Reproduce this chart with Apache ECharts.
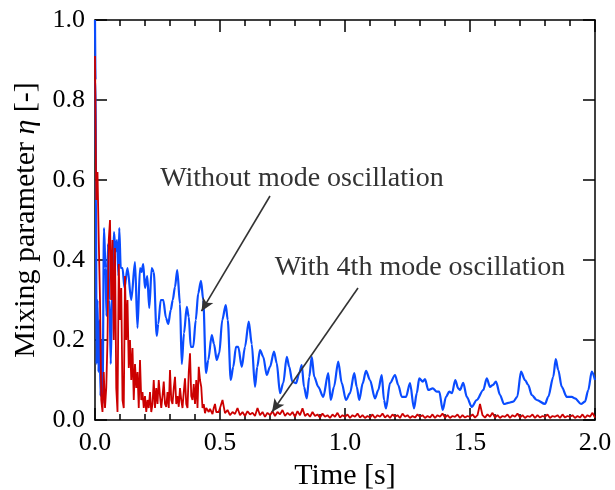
<!DOCTYPE html>
<html>
<head>
<meta charset="utf-8">
<script src="https://cdn.jsdelivr.net/npm/echarts@6/dist/echarts.min.js"></script>
<style>
html, body { margin: 0; padding: 0; background: #fff; }
#chartmain { width: 615px; height: 490px; }
</style>
</head>
<body>
<div id="chartmain"></div>
<script>
// x ticks / y ticks
var xTicks = [0.0, 0.5, 1.0, 1.5, 2.0];
var yTicks = [0.0, 0.2, 0.4, 0.6, 0.8, 1.0];

// without mode oscillation: [time, eta]
var blue = [
    [0, 1.0], [0.002, 0.85], [0.004, 0.6], [0.006, 0.14], [0.010, 0.30], [0.014, 0.12], [0.018, 0.25],
    [0.022, 0.06], [0.026, 0.20], [0.030, 0.04], [0.036, 0.48], [0.042, 0.38], [0.046, 0.26], [0.052, 0.44],
    [0.058, 0.30], [0.063, 0.14], [0.070, 0.36], [0.076, 0.47], [0.082, 0.42], [0.088, 0.45], [0.094, 0.36],
    [0.097, 0.48], [0.103, 0.38], [0.110, 0.38], [0.118, 0.33], [0.130, 0.38], [0.145, 0.30], [0.160, 0.395],
    [0.170, 0.23], [0.180, 0.38], [0.186, 0.37], [0.193, 0.39], [0.200, 0.33], [0.209, 0.36], [0.217, 0.28],
    [0.227, 0.38], [0.235, 0.37], [0.247, 0.21], [0.253, 0.24], [0.263, 0.30], [0.273, 0.30], [0.284, 0.255],
    [0.293, 0.24], [0.303, 0.275], [0.311, 0.30], [0.320, 0.333], [0.329, 0.375], [0.340, 0.29], [0.347, 0.14],
    [0.356, 0.217], [0.367, 0.283], [0.375, 0.258], [0.383, 0.183], [0.393, 0.183], [0.403, 0.25], [0.413, 0.317],
    [0.424, 0.348], [0.433, 0.30], [0.444, 0.117], [0.453, 0.15], [0.467, 0.2125], [0.476, 0.19], [0.487, 0.15],
    [0.497, 0.167], [0.509, 0.25], [0.523, 0.2875], [0.531, 0.25], [0.543, 0.10], [0.553, 0.133], [0.564, 0.183],
    [0.573, 0.183], [0.587, 0.133], [0.600, 0.183], [0.615, 0.246], [0.627, 0.19], [0.640, 0.083], [0.649, 0.133],
    [0.660, 0.175], [0.673, 0.158], [0.687, 0.1125], [0.700, 0.133], [0.716, 0.171], [0.727, 0.142], [0.740, 0.067],
    [0.753, 0.092], [0.767, 0.158], [0.777, 0.133], [0.789, 0.096], [0.804, 0.092], [0.817, 0.117], [0.827, 0.1375],
    [0.836, 0.083], [0.847, 0.054], [0.857, 0.108], [0.867, 0.158], [0.877, 0.108], [0.893, 0.083], [0.913, 0.058],
    [0.933, 0.117], [0.943, 0.05], [0.956, 0.083], [0.973, 0.146], [0.987, 0.092], [1.004, 0.05], [1.020, 0.067],
    [1.037, 0.117], [1.047, 0.083], [1.057, 0.05], [1.071, 0.092], [1.084, 0.123], [1.100, 0.10], [1.120, 0.054],
    [1.133, 0.075], [1.147, 0.1125], [1.156, 0.05], [1.164, 0.029], [1.180, 0.092], [1.200, 0.1125], [1.213, 0.0875],
    [1.227, 0.058], [1.244, 0.058], [1.260, 0.092], [1.276, 0.029], [1.287, 0.067], [1.297, 0.104], [1.311, 0.096],
    [1.320, 0.102], [1.333, 0.075], [1.351, 0.079], [1.367, 0.071], [1.377, 0.071], [1.391, 0.025], [1.404, 0.058],
    [1.417, 0.071], [1.428, 0.067], [1.441, 0.10], [1.453, 0.079], [1.460, 0.075], [1.473, 0.093], [1.487, 0.058],
    [1.507, 0.033], [1.527, 0.05], [1.553, 0.075], [1.567, 0.104], [1.580, 0.083], [1.591, 0.0875], [1.604, 0.096],
    [1.620, 0.0625], [1.636, 0.04], [1.653, 0.043], [1.673, 0.046], [1.689, 0.058], [1.704, 0.121], [1.720, 0.10],
    [1.733, 0.0875], [1.747, 0.0625], [1.767, 0.05], [1.800, 0.04], [1.813, 0.058], [1.833, 0.108], [1.843, 0.152],
    [1.853, 0.125], [1.867, 0.083], [1.887, 0.058], [1.907, 0.058], [1.920, 0.054], [1.944, 0.04], [1.960, 0.046],
    [1.973, 0.075], [1.987, 0.121], [2.000, 0.10]
];

// with 4th mode oscillation, sampled every 0.005 s from 0 to 0.495 s
var redEarlyStep = 0.005;
var redEarly = [
    0.91, 0.55, 0.62, 0.45, 0.30, 0.05, 0.02, 0.12, 0.03, 0.08,
    0.20, 0.45, 0.50, 0.30, 0.45, 0.20, 0.43, 0.08, 0.02, 0.39,
    0.25, 0.33, 0.05, 0.03, 0.36, 0.20, 0.30, 0.13, 0.20, 0.10,
    0.18, 0.05, 0.14, 0.08, 0.12, 0.03, 0.15, 0.05, 0.07, 0.03,
    0.06, 0.02, 0.05, 0.03, 0.07, 0.02, 0.04, 0.10, 0.03, 0.08,
    0.04, 0.10, 0.06, 0.03, 0.06, 0.096, 0.04, 0.033, 0.07, 0.03,
    0.125, 0.05, 0.04, 0.08, 0.108, 0.04, 0.06, 0.033, 0.08, 0.05,
    0.03, 0.07, 0.104, 0.04, 0.03, 0.12, 0.167, 0.06, 0.05, 0.09,
    0.04, 0.10, 0.03, 0.133, 0.10, 0.083, 0.03, 0.04, 0.017, 0.03,
    0.033, 0.02, 0.028, 0.025, 0.015, 0.03, 0.04, 0.02, 0.025, 0.02
];
// then every 0.01 s from 0.5 s to 2.0 s
var redLateStart = 0.5;
var redLateStep = 0.01;
var redLate = [
    0.02, 0.05, 0.017, 0.025, 0.012, 0.02, 0.015, 0.03, 0.012, 0.02,
    0.01, 0.022, 0.014, 0.018, 0.01, 0.03, 0.012, 0.02, 0.008, 0.018,
    0.012, 0.022, 0.01, 0.02, 0.014, 0.025, 0.01, 0.018, 0.012, 0.02,
    0.008, 0.022, 0.012, 0.029, 0.01, 0.016, 0.008, 0.02, 0.01, 0.014,
    0.006, 0.016, 0.008, 0.012, 0.005, 0.014, 0.008, 0.018, 0.006, 0.012,
    0.008, 0.014, 0.005, 0.012, 0.008, 0.016, 0.006, 0.012, 0.005, 0.01,
    0.006, 0.014, 0.005, 0.012, 0.008, 0.016, 0.006, 0.012, 0.005, 0.014,
    0.008, 0.012, 0.005, 0.016, 0.008, 0.012, 0.005, 0.01, 0.006, 0.014,
    0.008, 0.012, 0.005, 0.01, 0.006, 0.014, 0.005, 0.012, 0.008, 0.016,
    0.006, 0.012, 0.005, 0.01, 0.008, 0.014, 0.005, 0.012, 0.006, 0.01,
    0.008, 0.014, 0.006, 0.012, 0.04, 0.012, 0.006, 0.014, 0.008, 0.018,
    0.006, 0.012, 0.005, 0.01, 0.008, 0.014, 0.005, 0.012, 0.008, 0.016,
    0.006, 0.012, 0.005, 0.01, 0.008, 0.014, 0.005, 0.012, 0.006, 0.01,
    0.008, 0.014, 0.005, 0.01, 0.008, 0.012, 0.005, 0.014, 0.006, 0.01,
    0.008, 0.012, 0.005, 0.01, 0.006, 0.014, 0.005, 0.012, 0.008, 0.018,
    0.006
];

var serif = '"Liberation Serif", "Times New Roman", serif';

var red = [];
for (var i = 0; i < redEarly.length; i++) {
    red.push([+(i * redEarlyStep).toFixed(3), redEarly[i]]);
}
for (var j = 0; j < redLate.length; j++) {
    red.push([+(redLateStart + j * redLateStep).toFixed(3), redLate[j]]);
}

function tickAxis(pos, isX, showLabel) {
    var ax = {
        type: 'value',
        position: pos,
        min: isX ? xTicks[0] : yTicks[0],
        max: isX ? xTicks[xTicks.length - 1] : yTicks[yTicks.length - 1],
        interval: isX ? 0.5 : 0.2,
        axisLine: { show: true, onZero: false, lineStyle: { color: '#000', width: 1.5 } },
        axisTick: { show: true, inside: true, length: 12, lineStyle: { color: '#000', width: 1.5 } },
        minorTick: { show: isX, splitNumber: 5, length: 6, lineStyle: { color: '#000', width: 1.5 } },
        splitLine: { show: false },
        axisLabel: {
            show: showLabel,
            margin: 10,
            color: '#000',
            fontSize: 26,
            fontFamily: serif,
            formatter: function(v) { return v.toFixed(1); }
        }
    };
    return ax;
}

var xBottom = tickAxis('bottom', true, true);
xBottom.name = 'Time [s]';
xBottom.nameLocation = 'middle';
xBottom.nameGap = 40;
xBottom.nameTextStyle = { color: '#000', fontSize: 30, fontFamily: serif };

var yLeft = tickAxis('left', false, true);
yLeft.name = 'Mixing parameter {i|η} [-]';
yLeft.nameLocation = 'middle';
yLeft.nameGap = 50;
yLeft.nameTextStyle = {
    color: '#000', fontSize: 30, fontFamily: serif,
    rich: { i: { fontStyle: 'italic', fontSize: 30, fontFamily: serif, color: '#000' } }
};

var arrowStyle = { color: '#333', width: 1.6, type: 'solid' };

option = {
    animation: false,
    backgroundColor: '#fff',
    grid: { left: 95, right: 20, top: 20, bottom: 70, outerBoundsMode: 'none', containLabel: false },
    xAxis: [xBottom, tickAxis('top', true, false)],
    yAxis: [yLeft, tickAxis('right', false, false)],
    series: [{
        name: 'Without mode oscillation',
        type: 'line',
        data: blue,
        showSymbol: false,
        smooth: 0.3,
        smoothMonotone: 'x',
        lineStyle: { color: '#0a4cff', width: 2.2 },
        itemStyle: { color: '#0a4cff' },
        z: 2,
        markLine: {
            silent: true,
            symbol: ['none', 'arrow'],
            symbolSize: [9, 13],
            label: { show: false },
            lineStyle: arrowStyle,
            data: [
                [{ coord: [0.70, 0.56] }, { coord: [0.426, 0.272] }],
                [{ coord: [1.052, 0.33] }, { coord: [0.708, 0.02] }]
            ]
        }
    }, {
        name: 'With 4th mode oscillation',
        type: 'line',
        data: red,
        showSymbol: false,
        lineStyle: { color: '#cc0000', width: 1.8 },
        itemStyle: { color: '#cc0000' },
        z: 3
    }],
    graphic: [{
        type: 'text', x: 302, y: 179,
        style: { text: 'Without mode oscillation', font: '28px ' + serif, fill: '#333', align: 'center', verticalAlign: 'middle' }
    }, {
        type: 'text', x: 420, y: 268,
        style: { text: 'With 4th mode oscillation', font: '28px ' + serif, fill: '#333', align: 'center', verticalAlign: 'middle' }
    }]
};

var myChart = echarts.init(document.getElementById('chartmain'));
myChart.setOption(option);
</script>
</body>
</html>
